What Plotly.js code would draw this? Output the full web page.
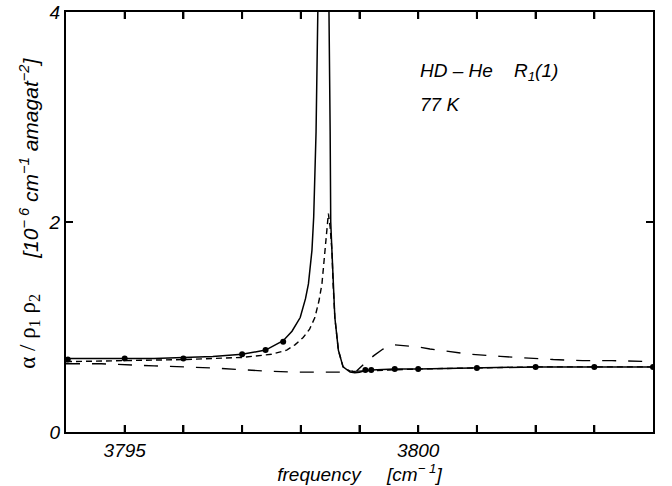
<!DOCTYPE html>
<html>
<head>
<meta charset="utf-8">
<script src="https://cdn.plot.ly/plotly-3.0.1.min.js"></script>
<style>html,body{margin:0;padding:0;background:#fff;}#chart{width:672px;height:486px;}</style>
</head>
<body>
<div id="chart"></div>
<script>
// total profile (solid)
const solidX = [3794.0, 3794.5, 3795.0, 3795.5, 3796.0, 3796.5, 3797.0, 3797.4, 3797.7, 3797.85, 3797.99, 3798.08, 3798.13, 3798.19, 3798.22, 3798.26, 3798.29, 3798.33, 3798.38, 3798.43, 3798.48, 3798.50, 3798.51, 3798.53, 3798.55, 3798.58, 3798.64, 3798.72, 3798.84, 3798.92, 3799.0, 3799.1, 3799.2, 3799.6, 3800.0, 3801.0, 3802.0, 3803.0, 3804.0];
const solidY = [0.70, 0.70, 0.70, 0.70, 0.71, 0.72, 0.74, 0.78, 0.87, 0.96, 1.09, 1.27, 1.41, 1.73, 2.05, 2.86, 4.0, 5.5, 7.0, 5.5, 4.0, 2.86, 2.0, 1.73, 1.41, 1.09, 0.78, 0.62, 0.57, 0.565, 0.57, 0.585, 0.59, 0.60, 0.60, 0.61, 0.62, 0.62, 0.62];
// line profile (short dash)
const shortX = [3794.0, 3795.0, 3796.0, 3797.0, 3797.5, 3797.76, 3797.9, 3798.04, 3798.15, 3798.24, 3798.31, 3798.36, 3798.41, 3798.44, 3798.47, 3798.50, 3798.53, 3798.55, 3798.58, 3798.64, 3798.72, 3798.84, 3799.0, 3799.5, 3800.0, 3801.0, 3802.0, 3803.0, 3804.0];
const shortY = [0.67, 0.68, 0.69, 0.71, 0.74, 0.78, 0.83, 0.90, 0.98, 1.09, 1.25, 1.41, 1.73, 1.95, 2.08, 1.95, 1.73, 1.41, 1.09, 0.78, 0.62, 0.58, 0.58, 0.59, 0.60, 0.61, 0.62, 0.62, 0.62];
// background (long dash)
const longX = [3794.0, 3794.6, 3795.5, 3796.5, 3797.4, 3797.9, 3798.3, 3798.7, 3798.95, 3799.1, 3799.25, 3799.4, 3799.6, 3799.8, 3800.0, 3800.2, 3800.5, 3800.9, 3801.4, 3801.9, 3802.3, 3802.8, 3803.3, 3804.0];
const longY = [0.65, 0.65, 0.63, 0.61, 0.58, 0.57, 0.57, 0.57, 0.58, 0.66, 0.73, 0.79, 0.83, 0.82, 0.81, 0.79, 0.77, 0.74, 0.72, 0.70, 0.69, 0.68, 0.68, 0.67];
// measured points (dots)
const dotX = [3794.03, 3795.0, 3796.0, 3797.0, 3797.4, 3797.7, 3799.1, 3799.2, 3799.6, 3800.0, 3801.0, 3802.0, 3803.0, 3804.0];
const dotY = [0.69, 0.70, 0.70, 0.74, 0.78, 0.86, 0.59, 0.59, 0.60, 0.60, 0.61, 0.62, 0.62, 0.62];
// ticks
const xTickVals = [3795, 3800];
const xTickMarks = [3795, 3796, 3797, 3798, 3799, 3800, 3801, 3802, 3803];
const xMinorStep = 1;
const yTickVals = [0, 2, 4];
const yTickText = ['0', '2', '4'];
const yTickMarks = [2];

const sans = 'Liberation Sans, Arial, Helvetica, sans-serif';
const tickFont = {family: sans, size: 19, color: '#000'};
const TL = 7; // tick length px
const plotW = 672 - 66 - 19, plotH = 486 - 12 - 54;

const traces = [
  {x: longX, y: longY, mode: 'lines', line: {color: '#000', width: 1.4, dash: '14px,12px'}},
  {x: shortX, y: shortY, mode: 'lines', line: {color: '#000', width: 1.4, dash: '6px,4px'}},
  {x: solidX, y: solidY, mode: 'lines', line: {color: '#000', width: 1.5}},
  {x: dotX, y: dotY, mode: 'markers', marker: {color: '#000', size: 6}}
];

// tick marks as shapes (bottom, top, left, right), from the tick arrays
const tickLine = {color: '#000', width: 2};
const shapes = [];
xTickMarks.forEach(function(v){
  shapes.push({type: 'line', xref: 'x', yref: 'paper', x0: v, x1: v, y0: 0, y1: TL / plotH, line: tickLine, layer: 'above'});
  shapes.push({type: 'line', xref: 'x', yref: 'paper', x0: v, x1: v, y0: 1, y1: 1 - TL / plotH, line: tickLine, layer: 'above'});
});
yTickMarks.forEach(function(v){
  shapes.push({type: 'line', xref: 'paper', yref: 'y', x0: 0, x1: TL / plotW, y0: v, y1: v, line: tickLine, layer: 'above'});
  shapes.push({type: 'line', xref: 'paper', yref: 'y', x0: 1, x1: 1 - TL / plotW, y0: v, y1: v, line: tickLine, layer: 'above'});
});

const layout = {
  width: 672, height: 486,
  margin: {l: 66, r: 19, t: 12, b: 54},
  showlegend: false,
  shapes: shapes,
  xaxis: {
    range: [3794, 3804],
    tickmode: 'linear', tick0: xTickVals[0], dtick: xTickVals[1] - xTickVals[0],
    tickprefix: '<i>', ticksuffix: '</i>',
    ticks: 'inside', ticklen: TL, tickwidth: 2, tickcolor: '#000',
    minor: {dtick: xMinorStep, ticks: 'inside', ticklen: TL, tickwidth: 2, tickcolor: '#000'},
    showline: true, linewidth: 2, linecolor: '#000', mirror: 'ticks',
    showgrid: false, zeroline: false,
    tickfont: tickFont,
    title: {text: '<i>frequency\u00A0\u00A0\u00A0\u00A0\u00A0[cm<sup>\u2212\u00A01</sup>]</i>', font: {family: sans, size: 19, color: '#000'}, standoff: 2}
  },
  yaxis: {
    range: [0, 4],
    tickmode: 'array', tickvals: yTickVals, ticktext: yTickText.map(function(t){ return '<i>' + t + '</i>'; }),
    ticks: 'inside', ticklen: TL, tickwidth: 2, tickcolor: '#000',
    showline: true, linewidth: 2, linecolor: '#000', mirror: 'ticks',
    showgrid: false, zeroline: false,
    tickfont: tickFont
  },
  annotations: [
    {xref: 'paper', yref: 'paper', x: 0.600, y: 0.857, xanchor: 'left', yanchor: 'middle', showarrow: false,
     text: '<i>HD \u2013 He\u00A0\u00A0\u00A0\u00A0R<sub>1</sub>(1)</i>', font: {family: sans, size: 19, color: '#000'}},
    {xref: 'paper', yref: 'paper', x: 0.600, y: 0.779, xanchor: 'left', yanchor: 'middle', showarrow: false,
     text: '<i>77 K</i>', font: {family: sans, size: 19, color: '#000'}},
    {xref: 'paper', yref: 'paper', x: -0.062, y: 0.240, xanchor: 'center', yanchor: 'middle', showarrow: false, textangle: -90,
     text: '\u03B1 / \u03C1<sub>1</sub> \u03C1<sub>2</sub>', font: {family: 'Liberation Serif, DejaVu Serif, serif', size: 23, color: '#000'}},
    {xref: 'paper', yref: 'paper', x: -0.062, y: 0.652, xanchor: 'center', yanchor: 'middle', showarrow: false, textangle: -90,
     text: '<i>[10<sup>\u2212 6</sup> cm<sup>\u22121</sup> amagat<sup>\u22122</sup>]</i>', font: {family: sans, size: 21, color: '#000'}}
  ]
};

Plotly.newPlot('chart', traces, layout, {staticPlot: true});
</script>
</body>
</html>
